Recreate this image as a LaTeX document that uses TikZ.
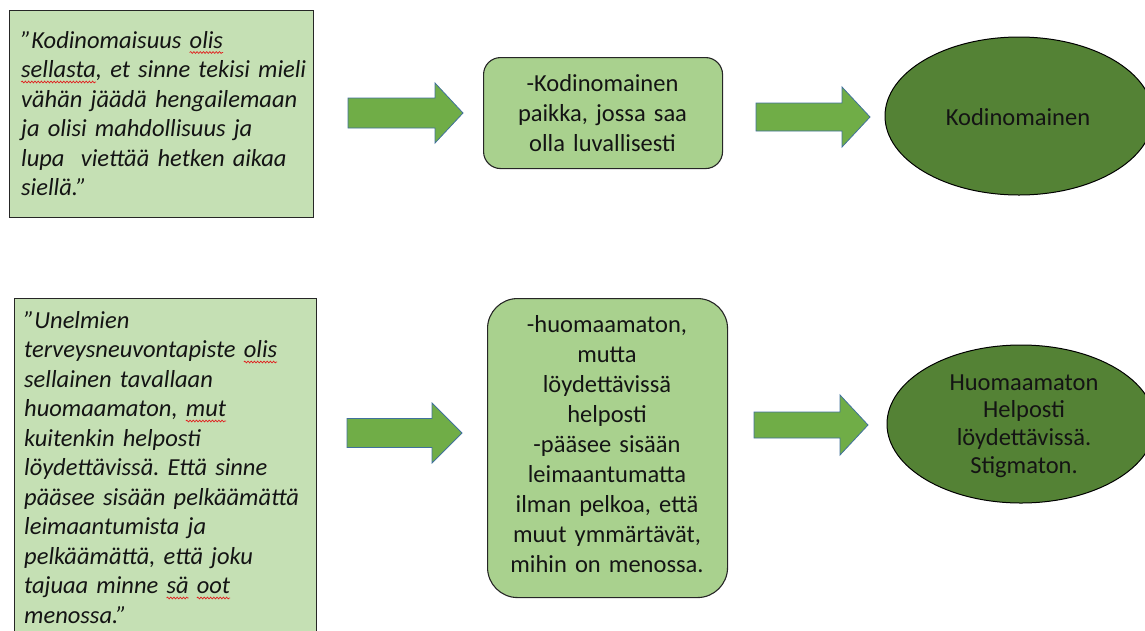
\documentclass[tikz,border=0pt]{standalone}
\usepackage{fontspec}
\setmainfont{Carlito}
\usetikzlibrary{shapes.geometric,decorations.pathmorphing}
\definecolor{quotefill}{HTML}{C5E0B4}
\definecolor{midfill}{HTML}{A9D18E}
\definecolor{arrowfill}{HTML}{70AD47}
\definecolor{arrowline}{HTML}{41719C}
\definecolor{ellfill}{HTML}{548235}
\definecolor{txt}{HTML}{141414}
\definecolor{wavered}{HTML}{E02020}
\frenchspacing
\newcommand\redwave[1]{\setbox0\hbox{#1}\tikz[overlay,baseline=0pt]\draw[wavered, line width=0.7pt, decorate, decoration={snake, amplitude=0.9pt, segment length=3.2pt}] (0pt,-4.5pt) -- ({\the\wd0},-4.5pt);#1}
\newcommand\blkarrow[6]{% x0, xhead, xtip, yc, half shaft, half head
  \draw[barrow] (#1,#4-#5) -- (#2,#4-#5) -- (#2,#4-#6) -- (#3,#4) -- (#2,#4+#6) -- (#2,#4+#5) -- (#1,#4+#5) -- cycle;}
\begin{document}
\begin{tikzpicture}[x=1pt,y=-1pt,
  qbox/.style={draw=black!85, line width=1.2pt, fill=quotefill, inner sep=0pt},
  midbox/.style={draw=black!85, line width=1.1pt, fill=midfill, inner sep=0pt},
  ellbox/.style={ellipse, draw=black, line width=1pt, fill=ellfill, inner sep=0pt},
  barrow/.style={fill=arrowfill, draw=arrowline, line width=0.8pt, line join=miter},
  qtext/.style={inner sep=0pt, align=left, text=txt, font={\fontsize{24.5}{29.5}\selectfont\itshape}},
  ctext/.style={inner sep=0pt, align=center, text=txt, font={\fontsize{24.5}{30.1}\selectfont}}]
\useasboundingbox (0,0) rectangle (1145,630);
\clip (0,0) rectangle (1145,630);
% quote boxes
\node[qbox, minimum width=304, minimum height=207, anchor=north west] (q1) at (9,10) {};
\node[qbox, minimum width=302, minimum height=360, anchor=north west] (q2) at (14,298) {};
\node[qtext, text width=295, anchor=base west] (t1) at (21,48)
  {”Kodinomaisuus \redwave{olis}\\ \redwave{sellasta}, et sinne tekisi mieli\\ vähän jäädä hengailemaan\\ ja olisi mahdollisuus ja\\ lupa\ \ viettää hetken aikaa\\ siellä.”};
\node[qtext, text width=292, anchor=base west] (t2) at (24,328)
  {”Unelmien\\ terveysneuvontapiste \redwave{olis}\\ sellainen tavallaan\\ huomaamaton, \redwave{mut}\\ kuitenkin helposti\\ löydettävissä. Että sinne\\ pääsee sisään pelkäämättä\\ leimaantumista ja\\ pelkäämättä, että joku\\ tajuaa minne \redwave{sä} \redwave{oot}\\ menossa.”};
% middle boxes
\node[midbox, rounded corners=17pt, minimum width=239, minimum height=111, anchor=north west] (m1) at (483,57) {};
\node[midbox, rounded corners=30pt, minimum width=240, minimum height=299, anchor=north west] (m2) at (487,298) {};
\node[ctext, text width=240, anchor=base] (mt1) at (602.5,91.5)
  {-Kodinomainen\\ paikka, jossa saa\\ olla luvallisesti};
\node[ctext, text width=245, anchor=base] (mt2) at (607,332)
  {-huomaamaton,\\ mutta\\ löydettävissä\\ helposti\\ -pääsee sisään\\ leimaantumatta\\ ilman pelkoa, että\\ muut ymmärtävät,\\ mihin on menossa.};
% ellipses
\node[ellbox, minimum width=268, minimum height=158] (e1) at (1019,116) {};
\node[ellbox, minimum width=268, minimum height=158] (e2) at (1021,424) {};
\node[ctext, text width=200, anchor=base] (et1) at (1018,125) {Kodinomainen};
\node[ctext, text width=200, anchor=base, font={\fontsize{24.5}{27.8}\selectfont}] (et2) at (1024,390)
  {Huomaamaton\\ Helposti\\ löydettävissä.\\ Stigmaton.};
% block arrows
\blkarrow{348}{435}{463}{113}{15}{30}
\blkarrow{756}{842}{870}{117}{14}{30}
\blkarrow{347}{432}{462}{433}{14.5}{30}
\blkarrow{754}{840}{868}{425}{13}{30}
\end{tikzpicture}
\end{document}
